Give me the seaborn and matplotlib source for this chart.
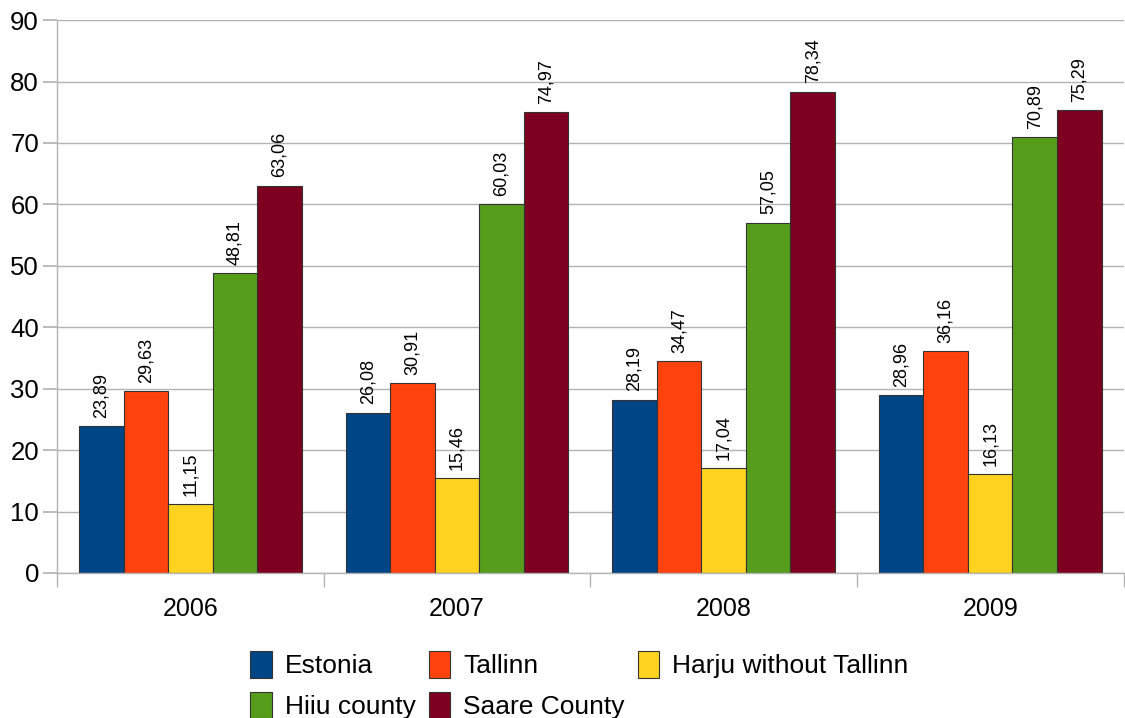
import matplotlib
matplotlib.use("Agg")
import matplotlib.pyplot as plt
import seaborn as sns
import pandas as pd

years = ["2006", "2007", "2008", "2009"]
regions = ["Estonia", "Tallinn", "Harju without Tallinn", "Hiiu county", "Saare County"]
estonia = [23.89, 26.08, 28.19, 28.96]
tallinn = [29.63, 30.91, 34.47, 36.16]
harju = [11.15, 15.46, 17.04, 16.13]
hiiu = [48.81, 60.03, 57.05, 70.89]
saare = [63.06, 74.97, 78.34, 75.29]
colors = ["#004586", "#ff420e", "#ffd320", "#579d1c", "#7e0021"]

series = [estonia, tallinn, harju, hiiu, saare]
rows = []
for name, vals in zip(regions, series):
    for y, v in zip(years, vals):
        rows.append({"year": y, "region": name, "value": v})
df = pd.DataFrame(rows)

sns.set_theme(style="white")
plt.rcParams["font.family"] = ["Liberation Sans", "DejaVu Sans"]
plt.rcParams["text.color"] = "black"
plt.rcParams["xtick.labelcolor"] = "black"
plt.rcParams["ytick.labelcolor"] = "black"

fig = plt.figure(figsize=(11.25, 7.18), dpi=100)
ax = fig.add_axes([0.0507, 0.202, 0.948, 0.770])

sns.barplot(data=df, x="year", y="value", hue="region", order=years,
            hue_order=regions, palette=colors, width=0.835, gap=0,
            edgecolor="#333333", linewidth=0.8, saturation=1, ax=ax,
            legend=True, errorbar=None)

for cont in ax.containers:
    labels = [f"{v:.2f}".replace(".", ",") for v in cont.datavalues]
    ax.bar_label(cont, labels=labels, rotation=90, padding=6, fontsize=13,
                 color="black")

ax.set_ylim(0, 90)
ax.set_yticks(range(0, 91, 10))
ax.set_xlim(-0.5, 3.5)
ax.set_xlabel("")
ax.set_ylabel("")
ax.yaxis.grid(True, color="#b3b3b3", linewidth=1)
ax.set_axisbelow(True)
for s in ["top", "right"]:
    ax.spines[s].set_visible(False)
for s in ["left", "bottom"]:
    ax.spines[s].set_color("#b3b3b3")
    ax.spines[s].set_linewidth(1)

ax.tick_params(axis="y", which="major", length=10, color="#b3b3b3",
               labelsize=18.5, left=True, pad=3)
ax.tick_params(axis="x", which="major", length=0, labelsize=18, pad=17)
ax.set_xticks([-0.5, 0.5, 1.5, 2.5, 3.5], minor=True)
ax.tick_params(axis="x", which="minor", length=10, color="#b3b3b3",
               bottom=True, direction="out")

handles, labels = ax.get_legend_handles_labels()
ax.get_legend().remove()
# matplotlib fills legend columns first; reorder so rows read left to right
order = [0, 3, 1, 4, 2]
fig.legend([handles[i] for i in order], [labels[i] for i in order],
           loc="lower center", bbox_to_anchor=(0.515, -0.034),
           ncol=3, frameon=False, fontsize=19, handlelength=0.8,
           handleheight=1.15, handletextpad=0.5, columnspacing=0.5,
           labelspacing=0.5)

fig.savefig("out.png", dpi=100)
